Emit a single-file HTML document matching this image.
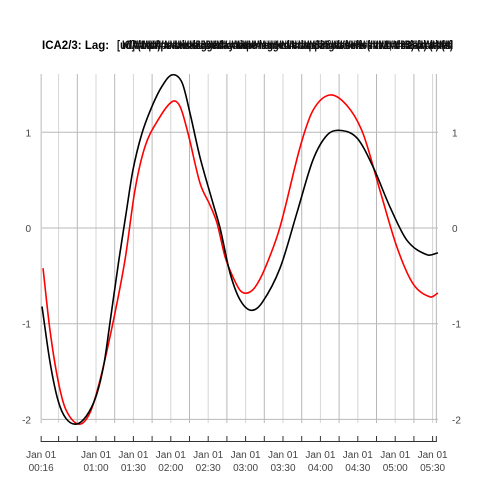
<!DOCTYPE html>
<html><head><meta charset="utf-8"><style>
html,body{margin:0;padding:0;background:#fff;width:480px;height:480px;overflow:hidden}
svg{font-family:"Liberation Sans",Arial,sans-serif}
</style></head><body>
<svg id="chart" width="480" height="480" viewBox="0 0 480 480" xmlns="http://www.w3.org/2000/svg">
<g>
<text x="42" y="49" font-size="11.5" font-weight="bold" fill="#000">ICA2/3:  Lag:</text>
<text x="117" y="49" font-size="11.5" font-weight="bold" fill="#111" textLength="336" lengthAdjust="spacingAndGlyphs">[ud] (1 pt) x-axis-lagged-component-overlapping-labels (m=1, n=3) (r) (t) (s)</text>
<text x="122" y="49" font-size="11.5" font-weight="bold" fill="#111" textLength="331" lengthAdjust="spacingAndGlyphs">ICA components overlay time lagged correlation series two three rotated</text>
<text x="127" y="49" font-size="11.5" font-weight="bold" fill="#111" textLength="326" lengthAdjust="spacingAndGlyphs">MMMWWW NNNHHH BBBMMM WWWMMM HHHNNN MMMBBB WWWHHH MMMNNN BBBWWW MMM</text>
<text x="133" y="49" font-size="11.5" font-weight="bold" fill="#111" textLength="318" lengthAdjust="spacingAndGlyphs">#########################################################</text>
</g>
<g id="grid"></g>
<g id="axes"></g>
<g id="series"></g>
</svg>
<script>
// times in minutes after 00:00, values in data units
const blackTimes=[16.7,23.1,29.5,35.9,44.0,52.0,60.0,66.4,71.2,78.4,84.1,89.7,96.9,104.9,112.9,121.0,129.0,135.4,143.4,153.8,159.5,167.5,175.5,184.3,193.2,207.6,221.2,234.0,245.3,255.7,269.4,282.2,295.8,309.5,325.5,334.3];
const blackValues=[-0.82,-1.40,-1.80,-1.99,-2.05,-1.97,-1.76,-1.42,-0.99,-0.33,0.15,0.61,0.99,1.27,1.48,1.60,1.52,1.20,0.74,0.26,0,-0.47,-0.75,-0.86,-0.78,-0.42,0.16,0.71,0.97,1.02,0.94,0.64,0.22,-0.13,-0.28,-0.26];
const redTimes=[17.5,23.1,29.5,35.9,46.4,55.2,63.2,73.6,83.3,91.3,99.3,108.9,121.0,127.4,133.8,143.4,151.4,157.1,163.5,169.1,175.5,181.1,187.5,195.6,207.6,223.6,234.1,247.5,261.3,274.1,287.6,301.4,314.2,327.9,334.3];
const redValues=[-0.42,-1.07,-1.59,-1.90,-2.05,-1.93,-1.59,-0.99,-0.33,0.40,0.85,1.11,1.32,1.27,0.99,0.47,0.24,0.05,-0.30,-0.49,-0.65,-0.68,-0.62,-0.42,0.01,0.84,1.23,1.39,1.28,0.99,0.40,-0.20,-0.58,-0.72,-0.68];
const yTicks=[1,0,-1,-2];
const yTickLabels=["1","0","-1","-2"];
const xTickTimes=[16,30,45,60,75,90,105,120,135,150,165,180,195,210,225,240,255,270,285,300,315,330,333];
const xLabelTimes=[16,60,90,120,150,180,210,240,270,300,330];
const xLabels=["00:16","01:00","01:30","02:00","02:30","03:00","03:30","04:00","04:30","05:00","05:30"];

const NS="http://www.w3.org/2000/svg";
const X=t=>96+(t-60)*1.2467;
const Y=v=>228-v*95.7;
const grid=document.getElementById('grid'),axes=document.getElementById('axes'),series=document.getElementById('series');
function mk(tag,attrs,parent){const e=document.createElementNS(NS,tag);for(const k in attrs)e.setAttribute(k,attrs[k]);parent.appendChild(e);return e;}

xTickTimes.forEach((t,i)=>{
  const l=mk('line',{x1:X(t),x2:X(t),y1:74,y2:423,stroke:(t%30===0)?'#d6d6d6':'#b8b8b8','stroke-width':1},grid);
  
  
  const k=mk('line',{x1:X(t),x2:X(t),y1:436,y2:442,stroke:'#333','stroke-width':1},axes);
  
  
});
yTicks.forEach((v,i)=>{
  const l=mk('line',{x1:42,x2:438,y1:Y(v),y2:Y(v),stroke:'#b8b8b8','stroke-width':1},grid);
  
  
  const a=mk('text',{x:31,y:Y(v)+4,'font-size':10,fill:'#444','text-anchor':'end'},axes);a.textContent=yTickLabels[i];
  
  
  const b=mk('text',{x:452,y:Y(v)+4,'font-size':10,fill:'#444'},axes);b.textContent=yTickLabels[i];
  
  
});
const ax=mk('line',{x1:X(16),x2:X(333),y1:441.5,y2:441.5,stroke:'#333','stroke-width':1},axes);


xLabelTimes.forEach((t,i)=>{
  const a=mk('text',{x:X(t),y:458,'font-size':10,fill:'#444','text-anchor':'middle'},axes);a.textContent='Jan 01';
  
  
  const b=mk('text',{x:X(t),y:471,'font-size':10,fill:'#444','text-anchor':'middle'},axes);b.textContent=xLabels[i];
  
  
});
function path(ts,vs){
  const p=ts.map((t,i)=>[X(t),Y(vs[i])]);
  const n=p.length;
  const m=p.map((q,i)=>{
    const a=p[Math.max(0,i-1)],b=p[Math.min(n-1,i+1)];
    return (b[1]-a[1])/((b[0]-a[0])||1);
  });
  let d='M'+p[0][0].toFixed(2)+','+p[0][1].toFixed(2);
  for(let i=0;i<n-1;i++){
    const p1=p[i],p2=p[i+1],h=p2[0]-p1[0];
    const c1=[p1[0]+h/3,p1[1]+m[i]*h/3];
    const c2=[p2[0]-h/3,p2[1]-m[i+1]*h/3];
    d+=' C'+c1[0].toFixed(2)+','+c1[1].toFixed(2)+' '+c2[0].toFixed(2)+','+c2[1].toFixed(2)+' '+p2[0].toFixed(2)+','+p2[1].toFixed(2);
  }
  return d;
}
const r=mk('path',{d:path(redTimes,redValues),fill:'none',stroke:'#ff0000','stroke-width':1.6},series);


const k=mk('path',{d:path(blackTimes,blackValues),fill:'none',stroke:'#000','stroke-width':1.6},series);


</script>
</body></html>
